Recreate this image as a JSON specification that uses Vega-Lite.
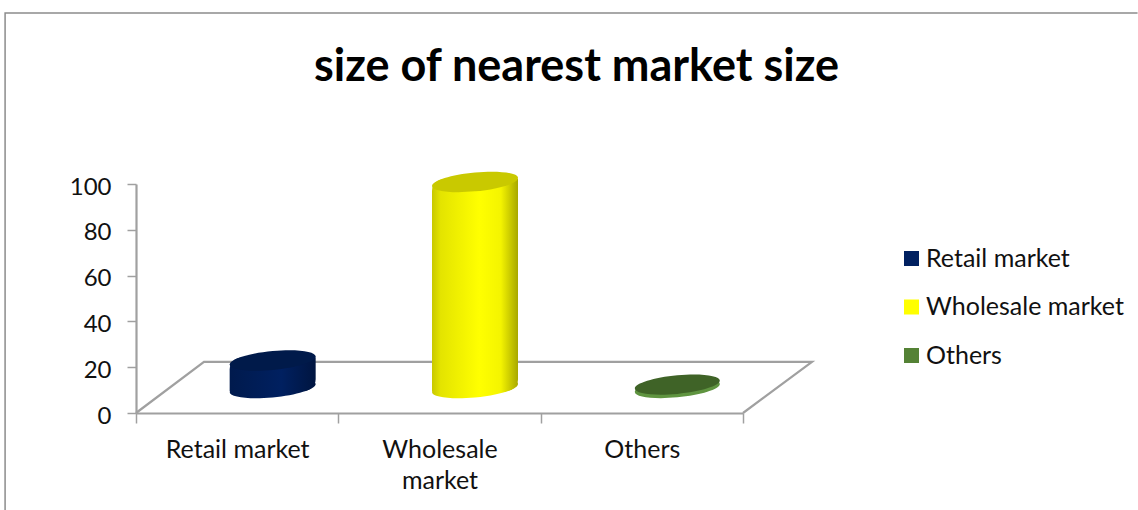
{
  "$schema": "https://vega.github.io/schema/vega-lite/v6.json",
  "width": 607,
  "height": 229,
  "autosize": {"type": "none"},
  "padding": {"left": 136, "top": 184, "right": 395, "bottom": 97},
  "background": "#ffffff",
  "title": {
    "text": "size of nearest market size",
    "font": "Lato",
    "fontSize": 45,
    "fontWeight": "bold",
    "color": "#000000",
    "anchor": "middle",
    "dx": 137,
    "offset": -80
  },
  "config": {"view": {"stroke": null}},
  "resolve": {"scale": {"x": "independent"}},
  "datasets": {
    "shares": [
      {"market": "Retail market", "share": 12},
      {"market": "Wholesale market", "share": 90},
      {"market": "Others", "share": 1.5}
    ],
    "outline": [
      {"part": "floor", "i": 0, "u": 0, "v": 0},
      {"part": "floor", "i": 1, "u": 0.336, "v": 22.3},
      {"part": "floor", "i": 2, "u": 3.341, "v": 22.3},
      {"part": "floor", "i": 3, "u": 3, "v": 0}
    ],
    "frame": [
      {"i": 0, "u": -0.647, "v": -43},
      {"i": 1, "u": -0.647, "v": 174.7},
      {"i": 2, "u": 4.95, "v": 174.7}
    ]
  },
  "layer": [
    {
      "data": {"name": "frame"},
      "mark": {"type": "line", "stroke": "#8c8c8c", "strokeWidth": 1.5, "clip": false},
      "encoding": {
        "x": {"field": "u", "type": "quantitative", "axis": null, "scale": {"domain": [0, 3], "nice": false, "zero": false}},
        "y": {"field": "v", "type": "quantitative", "scale": {"domain": [0, 100], "nice": false}},
        "order": {"field": "i"}
      }
    },
    {
      "data": {"name": "outline"},
      "mark": {"type": "line", "stroke": "#a0a0a0", "strokeWidth": 2.2, "clip": false},
      "encoding": {
        "x": {"field": "u", "type": "quantitative", "axis": null, "scale": {"domain": [0, 3], "nice": false, "zero": false}},
        "y": {"field": "v", "type": "quantitative", "scale": {"domain": [0, 100], "nice": false}},
        "order": {"field": "i"}
      }
    },
    {
      "data": {"name": "shares"},
      "encoding": {
        "x": {
          "field": "market", "type": "nominal", "sort": null,
          "scale": {"domain": ["Retail market", "Wholesale market", "Others"], "padding": 0},
          "axis": {
            "title": null,
            "labelAngle": 0,
            "labelFont": "Lato",
            "labelFontSize": 25,
            "labelColor": "#111111",
            "labelPadding": 14,
            "labelLineHeight": 31,
            "labelExpr": "datum.label == 'Wholesale market' ? ['Wholesale', 'market'] : datum.label",
            "domainColor": "#a0a0a0",
            "domainWidth": 2.2,
            "tickColor": "#a0a0a0",
            "tickWidth": 1.5,
            "tickSize": 10,
            "tickBand": "extent"
          }
        }
      },
      "layer": [
        {
          "mark": {"type": "bar", "width": 2, "xOffset": 35.5, "yOffset": -25, "y2Offset": -25},
          "encoding": {
            "y": {
              "field": "share", "type": "quantitative",
              "scale": {"domain": [0, 100], "nice": false},
              "axis": {
                "title": null,
                "values": [0, 20, 40, 60, 80, 100],
                "grid": false,
                "labelFont": "Lato",
                "labelFontSize": 24,
                "labelColor": "#111111",
                "labelPadding": 16,
                "labelOffset": 3,
                "domainColor": "#a0a0a0",
                "domainWidth": 2.2,
                "tickColor": "#a0a0a0",
                "tickWidth": 1.5,
                "tickSize": 9
              }
            },
            "y2": {"datum": 0},
            "color": {
              "field": "market", "type": "nominal",
              "scale": {"domain": ["Retail market", "Wholesale market", "Others"], "range": ["#002060", "#ffff00", "#548235"]},
              "legend": {
                "title": null,
                "orient": "none",
                "legendX": 763,
                "legendY": 62,
                "symbolType": "square",
                "symbolSize": 225,
                "symbolStrokeWidth": 0,
                "labelFont": "Lato",
                "labelFontSize": 25,
                "labelColor": "#111111",
                "labelOffset": 2,
                "rowPadding": 22.5,
                "labelLimit": 300
              }
            }
          }
        },
        {
          "transform": [{"filter": "datum.market == 'Retail market'"}],
          "layer": [
            {
              "mark": {"type": "point", "filled": true, "size": 7396, "opacity": 1, "xOffset": 35.5, "yOffset": -25, "strokeWidth": 0,
                "shape": "M1,-.093 C1,-.2145 .5523,-.2714 0,-.22 C-.5523,-.1686 -1,-.0285 -1,.093 C-1,.2145 -.5523,.2714 0,.22 C.5523,.1686 1,.0285 1,-.093 Z",
                "fill": {"gradient": "linear", "x1": 0, "y1": 0, "x2": 1, "y2": 0, "stops": [{"offset": 0, "color": "#001a4d"}, {"offset": 0.6, "color": "#002060"}, {"offset": 1, "color": "#001540"}]}},
              "encoding": {
                "y": {"datum": 0, "type": "quantitative", "scale": {"domain": [0, 100], "nice": false}}
              }
            },
            {
              "mark": {"type": "bar", "width": 86, "xOffset": 35.5, "yOffset": -28, "y2Offset": -22, "cornerRadiusTopLeft": 12, "cornerRadiusBottomRight": 12,
                "fill": {"gradient": "linear", "x1": 0, "y1": 0, "x2": 1, "y2": 0, "stops": [{"offset": 0, "color": "#001a4d"}, {"offset": 0.6, "color": "#002060"}, {"offset": 1, "color": "#001540"}]}},
              "encoding": {
                "y": {"field": "share", "type": "quantitative", "scale": {"domain": [0, 100], "nice": false}},
                "y2": {"datum": 0}
              }
            },
            {
              "mark": {"type": "point", "filled": true, "size": 7396, "opacity": 1, "xOffset": 35.5, "yOffset": -25, "strokeWidth": 0, "fill": "#001a4a",
                "shape": "M1,-.093 C1,-.2145 .5523,-.2714 0,-.22 C-.5523,-.1686 -1,-.0285 -1,.093 C-1,.2145 -.5523,.2714 0,.22 C.5523,.1686 1,.0285 1,-.093 Z"},
              "encoding": {
                "y": {"field": "share", "type": "quantitative", "scale": {"domain": [0, 100], "nice": false}}
              }
            }
          ]
        },
        {
          "transform": [{"filter": "datum.market == 'Wholesale market'"}],
          "layer": [
            {
              "mark": {"type": "point", "filled": true, "size": 7396, "opacity": 1, "xOffset": 35.5, "yOffset": -25, "strokeWidth": 0,
                "shape": "M1,-.093 C1,-.2145 .5523,-.2714 0,-.22 C-.5523,-.1686 -1,-.0285 -1,.093 C-1,.2145 -.5523,.2714 0,.22 C.5523,.1686 1,.0285 1,-.093 Z",
                "fill": {"gradient": "linear", "x1": 0, "y1": 0, "x2": 1, "y2": 0, "stops": [{"offset": 0, "color": "#c8c800"}, {"offset": 0.1, "color": "#e4e400"}, {"offset": 0.55, "color": "#ffff00"}, {"offset": 0.8, "color": "#f4f400"}, {"offset": 1, "color": "#a8a800"}]}},
              "encoding": {
                "y": {"datum": 0, "type": "quantitative", "scale": {"domain": [0, 100], "nice": false}}
              }
            },
            {
              "mark": {"type": "bar", "width": 86, "xOffset": 35.5, "yOffset": -28, "y2Offset": -22, "cornerRadiusTopLeft": 12, "cornerRadiusBottomRight": 12,
                "fill": {"gradient": "linear", "x1": 0, "y1": 0, "x2": 1, "y2": 0, "stops": [{"offset": 0, "color": "#c8c800"}, {"offset": 0.1, "color": "#e4e400"}, {"offset": 0.55, "color": "#ffff00"}, {"offset": 0.8, "color": "#f4f400"}, {"offset": 1, "color": "#a8a800"}]}},
              "encoding": {
                "y": {"field": "share", "type": "quantitative", "scale": {"domain": [0, 100], "nice": false}},
                "y2": {"datum": 0}
              }
            },
            {
              "mark": {"type": "point", "filled": true, "size": 7396, "opacity": 1, "xOffset": 35.5, "yOffset": -25, "strokeWidth": 0, "fill": "#c9c900",
                "shape": "M1,-.093 C1,-.2145 .5523,-.2714 0,-.22 C-.5523,-.1686 -1,-.0285 -1,.093 C-1,.2145 -.5523,.2714 0,.22 C.5523,.1686 1,.0285 1,-.093 Z"},
              "encoding": {
                "y": {"field": "share", "type": "quantitative", "scale": {"domain": [0, 100], "nice": false}}
              }
            }
          ]
        },
        {
          "transform": [{"filter": "datum.market == 'Others'"}],
          "layer": [
            {
              "mark": {"type": "point", "filled": true, "size": 7225, "opacity": 1, "xOffset": 35.5, "yOffset": -25, "strokeWidth": 0, "fill": "#5f9440",
                "shape": "M1,-.093 C1,-.2145 .5523,-.2714 0,-.22 C-.5523,-.1686 -1,-.0285 -1,.093 C-1,.2145 -.5523,.2714 0,.22 C.5523,.1686 1,.0285 1,-.093 Z"},
              "encoding": {
                "y": {"datum": 0, "type": "quantitative", "scale": {"domain": [0, 100], "nice": false}}
              }
            },
            {
              "mark": {"type": "point", "filled": true, "size": 7225, "opacity": 1, "xOffset": 35.5, "yOffset": -25, "strokeWidth": 0, "fill": "#3f6327",
                "shape": "M1,-.093 C1,-.2145 .5523,-.2714 0,-.22 C-.5523,-.1686 -1,-.0285 -1,.093 C-1,.2145 -.5523,.2714 0,.22 C.5523,.1686 1,.0285 1,-.093 Z"},
              "encoding": {
                "y": {"field": "share", "type": "quantitative", "scale": {"domain": [0, 100], "nice": false}}
              }
            }
          ]
        }
      ]
    }
  ]
}
